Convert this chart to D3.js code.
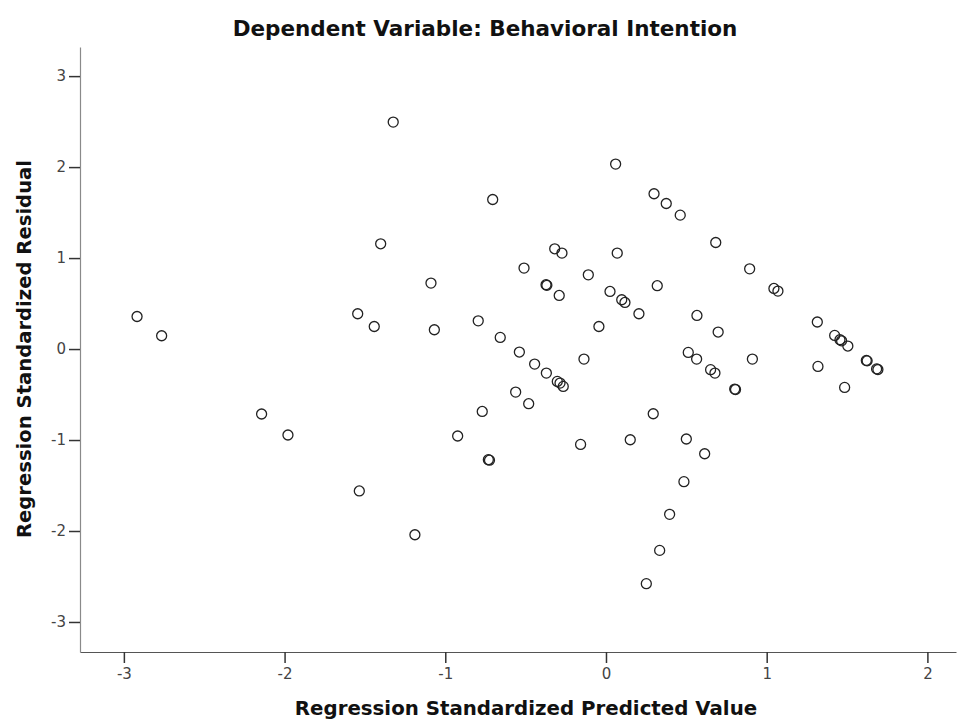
<!DOCTYPE html>
<html>
<head>
<meta charset="utf-8">
<script src="https://cdn.jsdelivr.net/npm/d3@7"></script>
<style>
    body { margin: 0; background: #fff; }
    svg { display: block; }
</style>
</head>
<body>
<svg id="chart" width="959" height="721"></svg>
<script>
// values
const predicted = [
    -2.918, -2.765, -2.143, -1.979, -1.545, -1.535, -1.442, -1.402, -1.324, -1.189,
    -1.089, -1.068, -0.923, -0.795, -0.770, -0.732, -0.725, -0.705, -0.658, -0.562,
    -0.539, -0.510, -0.481, -0.444, -0.373, -0.368, -0.371, -0.319, -0.303, -0.291,
    -0.286, -0.274, -0.266, -0.158, -0.137, -0.110, -0.044, 0.025, 0.060, 0.070,
    0.098, 0.118, 0.151, 0.205, 0.251, 0.294, 0.299, 0.319, 0.334, 0.375,
    0.396, 0.462, 0.485, 0.500, 0.512, 0.564, 0.566, 0.614, 0.651, 0.678,
    0.683, 0.698, 0.801, 0.806, 0.894, 0.911, 1.045, 1.070, 1.315, 1.319,
    1.423, 1.456, 1.466, 1.485, 1.505, 1.620, 1.625, 1.684, 1.692
];
const residual = [
    0.358, 0.146, -0.714, -0.945, 0.388, -1.560, 0.248, 1.157, 2.495, -2.041,
    0.725, 0.212, -0.956, 0.310, -0.686, -1.216, -1.222, 1.644, 0.128, -0.473,
    -0.033, 0.890, -0.601, -0.165, 0.707, 0.700, -0.264, 1.102, -0.356, 0.589,
    -0.374, 1.055, -0.411, -1.048, -0.110, 0.816, 0.248, 0.633, 2.033, 1.055,
    0.542, 0.512, -0.997, 0.388, -2.579, -0.711, 1.707, 0.696, -2.213, 1.600,
    -1.817, 1.472, -1.458, -0.989, -0.037, -0.110, 0.369, -1.151, -0.227, -0.264,
    1.171, 0.187, -0.440, -0.445, 0.882, -0.110, 0.666, 0.637, 0.297, -0.191,
    0.150, 0.102, 0.090, -0.422, 0.033, -0.125, -0.130, -0.218, -0.225
];
const xTicks = [-3, -2, -1, 0, 1, 2];
const yTicks = [-3, -2, -1, 0, 1, 2, 3];

const chartTitle = "Dependent Variable: Behavioral Intention";
const xTitle = "Regression Standardized Predicted Value";
const yTitle = "Regression Standardized Residual";

const FONT = "'DejaVu Sans', Verdana, sans-serif";

const svg = d3.select("#chart");

const x = d3.scaleLinear().domain([-3.273, 2.178]).range([80, 956]);
const y = d3.scaleLinear().domain([-3.33, 3.32]).range([652, 47]);

const points = predicted.map((p, i) => ({ p: p, r: residual[i] }));

// axes
const xAxis = svg.append("g")
    .attr("transform", "translate(0," + y.range()[0] + ")")
    .call(d3.axisBottom(x)
        .tickValues(xTicks)
        .tickFormat(d => String(d))
        .tickSizeInner(11)
        .tickSizeOuter(0)
        .tickPadding(5));

const yAxis = svg.append("g")
    .attr("transform", "translate(" + x.range()[0] + ",0)")
    .call(d3.axisLeft(y)
        .tickValues(yTicks)
        .tickFormat(d => String(d))
        .tickSizeInner(11)
        .tickSizeOuter(0)
        .tickPadding(3));

xAxis.select(".domain").attr("stroke", "#555").attr("stroke-width", 1.2);
yAxis.select(".domain").attr("stroke", "#8a8a8a").attr("stroke-width", 1.2);
svg.selectAll(".tick line")
    .attr("stroke", "#333")
    .attr("stroke-width", 1.5);
svg.selectAll(".tick text")
    .attr("font-family", FONT)
    .attr("font-size", 15)
    .attr("fill", "#444");

// points
svg.append("g")
    .selectAll("circle")
    .data(points)
    .join("circle")
    .attr("cx", d => x(d.p))
    .attr("cy", d => y(d.r))
    .attr("r", 5)
    .attr("fill", "none")
    .attr("stroke", "#222")
    .attr("stroke-width", 1.3);

// titles
svg.append("text")
    .attr("x", 485)
    .attr("y", 36)
    .attr("text-anchor", "middle")
    .attr("font-family", FONT)
    .attr("font-weight", "bold")
    .attr("font-size", 21.5)
    .attr("fill", "#111")
    .text(chartTitle);

svg.append("text")
    .attr("x", 526)
    .attr("y", 715)
    .attr("text-anchor", "middle")
    .attr("font-family", FONT)
    .attr("font-weight", "bold")
    .attr("font-size", 19.8)
    .attr("fill", "#111")
    .text(xTitle);

svg.append("text")
    .attr("transform", "translate(31," + y(0) + ") rotate(-90)")
    .attr("text-anchor", "middle")
    .attr("font-family", FONT)
    .attr("font-weight", "bold")
    .attr("font-size", 19.6)
    .attr("fill", "#111")
    .text(yTitle);
</script>
</body>
</html>
